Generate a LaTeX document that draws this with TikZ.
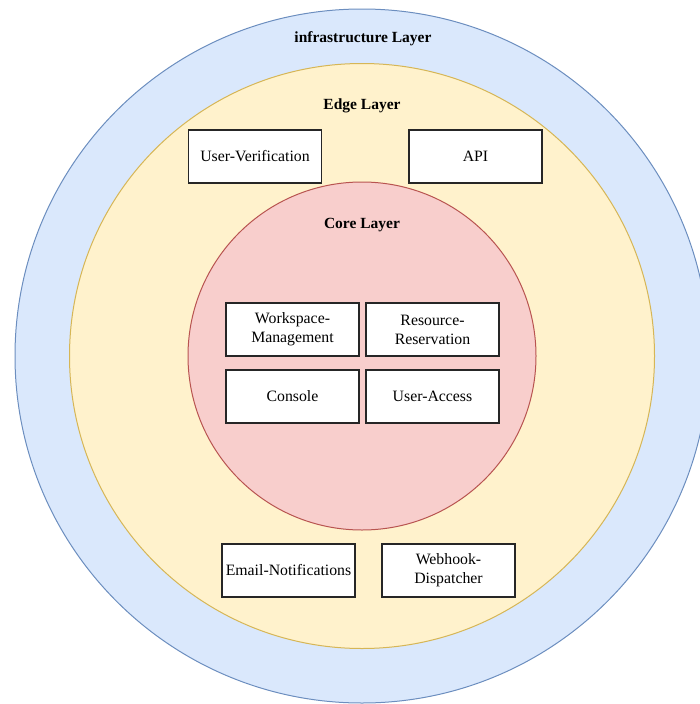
\documentclass[tikz,border=0pt]{standalone}
\usepackage{fontspec}
\setmainfont{Liberation Serif}
\definecolor{infraFill}{HTML}{DAE8FC}
\definecolor{infraLine}{HTML}{6C8EBF}
\definecolor{edgeFill}{HTML}{FFF2CC}
\definecolor{edgeLine}{HTML}{D6B656}
\definecolor{coreFill}{HTML}{F8CECC}
\definecolor{coreLine}{HTML}{B85450}
\begin{document}
\begin{tikzpicture}[x=1pt,y=-1pt,
  layer/.style={circle,draw,line width=1pt,inner sep=0pt},
  layertitle/.style={font=\fontsize{15.5}{18}\selectfont\bfseries},
  svc/.style={draw=black!85,fill=white,line width=1.1pt,minimum width=133pt,minimum height=53pt,
    inner sep=2pt,align=center,font=\fontsize{15.8}{19}\selectfont}]
\clip (0,0) rectangle (700,704);
% concentric layers
\node[layer,fill=infraFill,draw=infraLine,minimum size=694pt] (infra) at (362,356) {};
\node[layer,fill=edgeFill,draw=edgeLine,minimum size=585pt] (edge) at (362,356) {};
\node[layer,fill=coreFill,draw=coreLine,minimum size=348pt] (core) at (362,356) {};
% layer titles
\node[layertitle] (infraT) at (363,38.5) {infrastructure Layer};
\node[layertitle] (edgeT) at (362,105.5) {Edge Layer};
\node[layertitle] (coreT) at (362,225.5) {Core Layer};
% edge services
\node[svc] (verif) at (255,156.5) {User-Verification};
\node[svc] (api) at (475.5,156.5) {API};
\node[svc] (mail) at (288.5,570.5) {Email-Notifications};
\node[svc] (hook) at (448.5,570.5) {Webhook-\\Dispatcher};
% core services
\node[svc] (ws) at (292.5,329.5) {Workspace-\\Management};
\node[svc] (res) at (432.5,329.5) {Resource-\\Reservation};
\node[svc] (console) at (292.5,396.5) {Console};
\node[svc] (access) at (432.5,396.5) {User-Access};
\end{tikzpicture}
\end{document}
